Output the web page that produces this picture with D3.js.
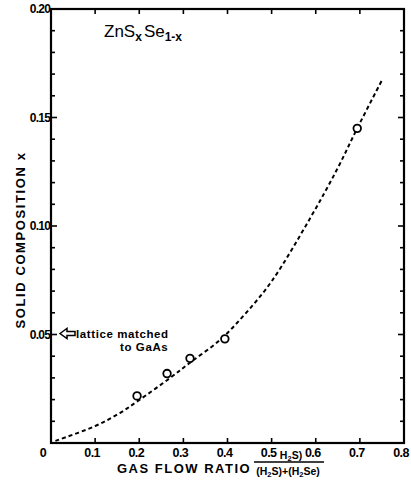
<!DOCTYPE html>
<html>
<head>
<meta charset="utf-8">
<script src="https://cdn.jsdelivr.net/npm/d3@7"></script>
<style>
  body { margin: 0; background: #fff; }
  svg text { font-family: "Liberation Sans", Arial, sans-serif; font-weight: bold; fill: #000; }
</style>
</head>
<body>
<svg id="graph" width="411" height="485"></svg>
<script>
// measured points (gas flow ratio vs solid composition)
const ratioPts = [0.195, 0.263, 0.315, 0.394, 0.694];
const compPts = [0.0217, 0.032, 0.039, 0.048, 0.145];

// dashed guide curve
const curveX = [0.01, 0.1, 0.156, 0.2, 0.27, 0.315, 0.383, 0.44, 0.5, 0.587, 0.648, 0.694, 0.752];
const curveY = [0.001, 0.0078, 0.0138, 0.0198, 0.0300, 0.0370, 0.0475, 0.0595, 0.0745, 0.1035, 0.126, 0.145, 0.168];

const xTicks = [0, 0.1, 0.2, 0.3, 0.4, 0.5, 0.6, 0.7, 0.8];
const xTickLabels = ["0", "0.1", "0.2", "0.3", "0.4", "0.5", "0.6", "0.7", "0.8"];
const yTicks = [0.05, 0.10, 0.15, 0.20];
const yTickLabels = ["0.05", "0.10", "0.15", "0.20"];

const svg = d3.select("#graph");
const plotL = 51, plotR = 404, plotT = 9, plotB = 443;

const xScale = d3.scaleLinear().domain([0, 0.8]).range([plotL, plotR]);
const yScale = d3.scaleLinear().domain([0, 0.2]).range([plotB, plotT]);

const ink = "#000";

// frame
svg.append("rect")
    .attr("x", plotL).attr("y", plotT)
    .attr("width", plotR - plotL).attr("height", plotB - plotT)
    .attr("fill", "none").attr("stroke", ink).attr("stroke-width", 2.2);

// y ticks (left + right), every 0.01, inside
const yMinor = d3.range(1, 20).map(i => i / 100);
yMinor.forEach(function(v) {
    const major = Math.abs(v * 20 - Math.round(v * 20)) < 1e-6;
    const len = major ? 6 : 4;
    svg.append("line")
        .attr("x1", plotL).attr("x2", plotL + len)
        .attr("y1", yScale(v)).attr("y2", yScale(v))
        .attr("stroke", ink).attr("stroke-width", 1.6);
    svg.append("line")
        .attr("x1", plotR).attr("x2", plotR - len)
        .attr("y1", yScale(v)).attr("y2", yScale(v))
        .attr("stroke", ink).attr("stroke-width", 1.6);
});

// x ticks (bottom + top)
xTicks.slice(1, -1).forEach(function(v) {
    svg.append("line")
        .attr("x1", xScale(v)).attr("x2", xScale(v))
        .attr("y1", plotB).attr("y2", plotB - 5)
        .attr("stroke", ink).attr("stroke-width", 1.6);
    svg.append("line")
        .attr("x1", xScale(v)).attr("x2", xScale(v))
        .attr("y1", plotT).attr("y2", plotT + 5)
        .attr("stroke", ink).attr("stroke-width", 1.6);
});

// tick labels
svg.append("g").selectAll("text")
    .data(xTicks)
    .enter().append("text")
    .attr("x", (d, i) => xScale(d) - (i == 0 ? 8 : 3))
    .attr("y", plotB + 14)
    .attr("text-anchor", "middle")
    .style("font-size", "12.5px")
    .style("letter-spacing", "-0.6px")
    .text((d, i) => xTickLabels[i]);

svg.append("g").selectAll("text")
    .data(yTicks)
    .enter().append("text")
    .attr("x", plotL - 1)
    .attr("y", d => yScale(d) + 4)
    .attr("text-anchor", "end")
    .style("font-size", "12px")
    .style("letter-spacing", "-0.8px")
    .text((d, i) => yTickLabels[i]);

// axis titles
svg.append("text")
    .attr("x", 117).attr("y", 473)
    .style("font-size", "13px")
    .style("letter-spacing", "1.5px")
    .text("GAS FLOW RATIO");

// fraction H2S / (H2S)+(H2Se)
const frac = svg.append("g").style("font-size", "10.5px");
frac.append("text").attr("x", 291).attr("y", 459).attr("text-anchor", "middle")
    .html('H<tspan dy="2" font-size="7.5px">2</tspan><tspan dy="-2">S)</tspan>');
frac.append("line")
    .attr("x1", 254).attr("x2", 324).attr("y1", 462).attr("y2", 462)
    .attr("stroke", ink).attr("stroke-width", 1.3);
frac.append("text").attr("x", 288).attr("y", 475).attr("text-anchor", "middle")
    .html('(H<tspan dy="2" font-size="7.5px">2</tspan><tspan dy="-2">S)+(H</tspan><tspan dy="2" font-size="7.5px">2</tspan><tspan dy="-2">Se)</tspan>');

svg.append("text")
    .attr("transform", "translate(25, 240) rotate(-90)")
    .attr("text-anchor", "middle")
    .style("font-size", "13px")
    .style("letter-spacing", "1.6px")
    .text("SOLID COMPOSITION  x");

// title
svg.append("text")
    .attr("x", 104).attr("y", 37)
    .style("font-size", "17px")
    .style("font-weight", "normal")
    .html('ZnS<tspan dy="4" font-size="12px" font-weight="bold">x</tspan><tspan dy="-4" dx="2">Se</tspan><tspan dy="4" font-size="12px" font-weight="bold">1-x</tspan>');

// lattice matched annotation: open arrow pointing left
const ay = yScale(0.05) - 1;
svg.append("path")
    .attr("d", `M${plotL + 9},${ay} l7,-5 v3 h8 v4 h-8 v3 z`)
    .attr("fill", "none").attr("stroke", ink).attr("stroke-width", 1.5);
svg.append("text")
    .attr("x", 76).attr("y", ay + 4)
    .style("font-size", "11.5px")
    .style("letter-spacing", "0.6px")
    .text("lattice matched");
svg.append("text")
    .attr("x", 120).attr("y", ay + 17)
    .style("font-size", "11.5px")
    .style("letter-spacing", "0.6px")
    .text("to GaAs");

// dashed curve
const line = d3.line()
    .x(function(d, i) { return xScale(curveX[i]); })
    .y(function(d) { return yScale(d); })
    .curve(d3.curveCatmullRom);

svg.append("path")
    .datum(curveY)
    .attr("fill", "none")
    .attr("stroke", ink)
    .attr("stroke-width", 2)
    .attr("stroke-dasharray", "4,3")
    .attr("d", line);

// data circles
svg.append("g").selectAll("circle")
    .data(ratioPts)
    .enter().append("circle")
    .attr("cx", d => xScale(d))
    .attr("cy", (d, i) => yScale(compPts[i]))
    .attr("r", 3.8)
    .attr("fill", "#fff")
    .attr("stroke", ink)
    .attr("stroke-width", 1.8);
</script>
</body>
</html>
